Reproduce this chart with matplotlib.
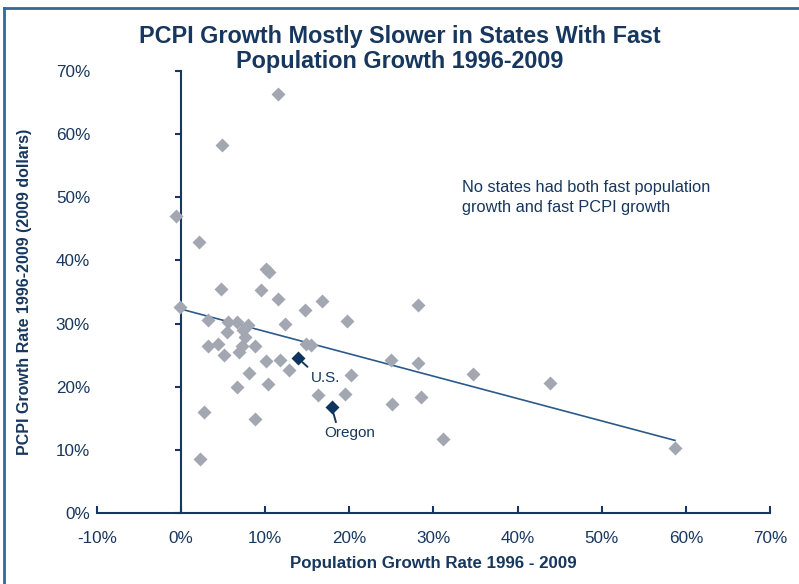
import numpy as np
import matplotlib
matplotlib.use("Agg")
import matplotlib.pyplot as plt
from matplotlib.lines import Line2D
from matplotlib.ticker import FuncFormatter

plt.rcParams['font.family'] = ['Liberation Sans', 'DejaVu Sans']

# state data (population growth %, PCPI growth %)
pop_growth = [-0.6, 2.1, 4.8, 11.5, 10.1, 10.4, 4.7, 9.5, 11.5, 16.8,
              14.7, -0.1, 19.7, 3.2, 5.6, 6.7, 7.9, 12.4, 5.4, 7.4,
              7.6, 3.2, 4.4, 7.2, 8.8, 6.9, 5.1, 14.8, 15.4, 10.1,
              11.8, 12.8, 8.1, 20.2, 6.7, 10.3, 16.3, 19.5, 2.7, 8.8,
              2.2, 28.1, 24.9, 28.2, 34.7, 25.1, 28.5, 31.1, 43.8, 58.7]
pcpi_growth = [47.0, 42.9, 58.3, 66.3, 38.7, 38.1, 35.5, 35.3, 33.9, 33.6,
               32.2, 32.7, 30.4, 30.6, 30.3, 30.3, 29.8, 29.9, 28.7, 29.0,
               27.9, 26.5, 26.7, 26.4, 26.5, 25.5, 25.1, 26.7, 26.6, 24.1,
               24.2, 22.7, 22.1, 21.9, 20.0, 20.4, 18.7, 18.8, 16.0, 14.9,
               8.5, 33.0, 24.2, 23.7, 22.0, 17.3, 18.4, 11.7, 20.6, 10.3]

highlight_names = ['U.S.', 'Oregon']
highlight_x = [13.9, 17.9]
highlight_y = [24.5, 16.8]

# linear trendline end points
trend_x = [-0.6, 58.7]
trend_y = [32.5, 11.5]

navy = '#17375E'
gray = '#A3A7B2'
dark = '#0F3460'
line_col = '#2B5A8A'

fig = plt.figure(figsize=(7.99, 5.84), dpi=100)
ax = fig.add_axes([0.1214, 0.1216, 0.8423, 0.7568])

ax.plot(trend_x, trend_y, color=line_col, lw=1.2, zorder=2)
ax.plot(pop_growth, pcpi_growth, ls='none', marker='D', ms=7.2,
        color=gray, mec='none', zorder=3)
ax.plot(highlight_x, highlight_y, ls='none', marker='D', ms=7.2,
        color=dark, mec='none', zorder=4)

# labels for U.S. and Oregon with short leader lines
ax.annotate(highlight_names[0], xy=(highlight_x[0], highlight_y[0]),
            xytext=(20, -14.5), textcoords='offset points',
            color=navy, fontsize=11, ha='center', va='center',
            arrowprops=dict(arrowstyle='-', color=navy, lw=1.4,
                            relpos=(0.05, 1.0), shrinkA=2, shrinkB=4))
ax.annotate(highlight_names[1], xy=(highlight_x[1], highlight_y[1]),
            xytext=(13, -19), textcoords='offset points',
            color=navy, fontsize=11, ha='center', va='center',
            arrowprops=dict(arrowstyle='-', color=navy, lw=1.4,
                            relpos=(0.25, 1.0), shrinkA=1, shrinkB=5))

ax.text(33.4, 52.7, 'No states had both fast population\ngrowth and fast PCPI growth',
        color=navy, fontsize=11.8, ha='left', va='top', linespacing=1.38)

ax.set_xlim(-10, 70)
ax.set_ylim(0, 70)
ax.set_xticks(np.arange(-10, 71, 10))
ax.set_yticks(np.arange(0, 71, 10))
pct = FuncFormatter(lambda v, p: '%d%%' % v)
ax.xaxis.set_major_formatter(pct)
ax.yaxis.set_major_formatter(pct)

for s in ['top', 'right', 'left']:
    ax.spines[s].set_visible(False)
ax.spines['bottom'].set_color(navy)
ax.spines['bottom'].set_linewidth(1.5)
ax.tick_params(axis='x', direction='in', length=5, width=1.5, color=navy,
               labelcolor=navy, labelsize=12.3, pad=13)
ax.tick_params(axis='y', length=0, labelcolor=navy, labelsize=12.3, pad=5)

# vertical axis line at x = 0 with its tick marks
sec = ax.secondary_yaxis(0, transform=ax.transData)
sec.spines['left'].set_color(navy)
sec.spines['left'].set_linewidth(1.5)
sec.set_yticks(np.arange(0, 71, 10))
sec.tick_params(axis='y', direction='out', length=4, width=1.5, color=navy,
                labelleft=False)

ax.set_xlabel('Population Growth Rate 1996 - 2009', fontsize=12.2,
              fontweight='bold', color=navy, labelpad=7)
ax.set_ylabel('PCPI Growth Rate 1996-2009 (2009 dollars)', fontsize=11.5,
              fontweight='bold', color=navy, labelpad=17)

fig.text(0.5, 0.916, 'PCPI Growth Mostly Slower in States With Fast\nPopulation Growth 1996-2009',
         ha='center', va='center', fontsize=16.8, fontweight='bold', color=navy,
         linespacing=1.12)

# frame at top and left of the picture
fig.add_artist(Line2D([4 / 799, 1], [1 - 8 / 584, 1 - 8 / 584],
                      transform=fig.transFigure, color='#2E6A9E', lw=2))
fig.add_artist(Line2D([4 / 799, 4 / 799], [0, 1 - 8 / 584],
                      transform=fig.transFigure, color='#2E6A9E', lw=2))

fig.savefig('out.png', dpi=100)
